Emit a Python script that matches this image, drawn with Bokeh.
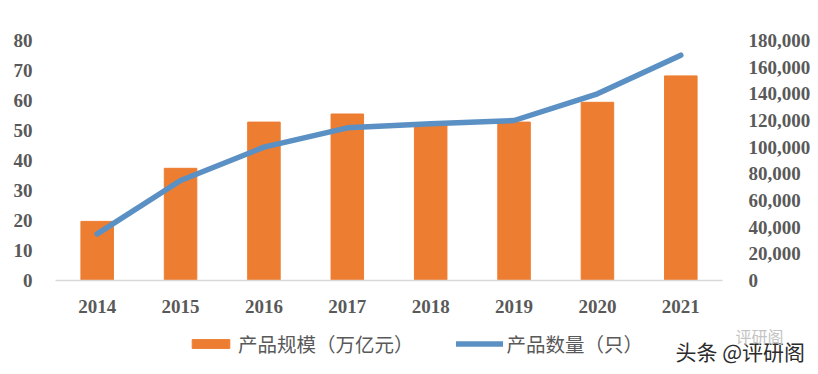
from bokeh.plotting import figure
from bokeh.models import (Range1d, LinearAxis, FixedTicker, NumeralTickFormatter,
                          Legend, LegendItem, Label, ColumnDataSource)
from bokeh.embed import file_html
from bokeh.resources import INLINE

years = ["2014", "2015", "2016", "2017", "2018", "2019", "2020", "2021"]
scale = [19.7, 37.4, 52.8, 55.5, 52.0, 52.8, 59.4, 68.2]          # 产品规模（万亿元）
count = [35000, 75000, 100000, 114500, 117500, 120000, 140000, 169000]  # 产品数量（只）
left_ticks = [0, 10, 20, 30, 40, 50, 60, 70, 80]
right_ticks = [0, 20000, 40000, 60000, 80000, 100000, 120000, 140000, 160000, 180000]
series_names = ["产品规模（万亿元）", "产品数量（只）"]
watermark = "头条 @评研阁"
watermark_small = "评研阁"

BAR = "#ED7D31"
LINE = "#5B90C4"
TXT = "#595959"
NUMFONT = "Liberation Serif"
CJK = "Noto Sans CJK SC"

# category slots: year i is centred at i + 0.5
xpos = [i + 0.5 for i in range(len(years))]
n = len(years)
src = ColumnDataSource(dict(x=xpos, years=years, scale=scale, count=count))

# plot-area geometry (px): category band spans 55..722, value 0 at y=280, 80 at y=40
W, H = 818, 374
L, R, ZERO, TOP = 55, 722, 280, 40
px_per_cat = (R - L) / n
px_per_unit = (ZERO - TOP) / 80

p = figure(width=W, height=H,
           x_range=Range1d(-L / px_per_cat, (W - L) / px_per_cat),
           y_range=Range1d(-(H - ZERO) / px_per_unit, ZERO / px_per_unit),
           output_backend="svg", toolbar_location=None,
           min_border_left=0, min_border_right=0, min_border_top=0, min_border_bottom=0)
ratio = 180000 / 80
p.extra_y_ranges = {"right": Range1d(p.y_range.start * ratio, p.y_range.end * ratio)}
p.outline_line_color = None
p.grid.visible = False

bars = p.vbar(x="x", top="scale", width=0.39, source=src, color=BAR)
ln = p.line(x="x", y="count", source=src, y_range_name="right", color=LINE,
            line_width=5.5, line_cap="round", line_join="round")

def style(ax):
    ax.major_tick_line_color = None
    ax.minor_tick_line_color = None
    ax.major_label_text_font = NUMFONT
    ax.major_label_text_font_style = "bold"
    ax.major_label_text_font_size = "19px"
    ax.major_label_text_color = TXT

ly = p.yaxis[0]
ly.ticker = FixedTicker(ticks=left_ticks)
ly.axis_line_color = None
ly.major_label_standoff = 17
ly.fixed_location = 0
style(ly)

ry = LinearAxis(y_range_name="right", ticker=FixedTicker(ticks=right_ticks),
                formatter=NumeralTickFormatter(format="0,0"))
ry.axis_line_color = None
ry.major_label_standoff = 20
ry.fixed_location = n
style(ry)
p.add_layout(ry, "right")

bx = p.xaxis[0]
bx.ticker = FixedTicker(ticks=xpos)
bx.major_label_overrides = {x: y for x, y in zip(xpos, years)}
bx.axis_line_color = "#D9D9D9"
bx.axis_line_width = 1.5
bx.major_label_standoff = 13
bx.fixed_location = 0
bx.bounds = (0, n)
style(bx)

legend = Legend(items=[LegendItem(label=series_names[0], renderers=[bars]),
                       LegendItem(label=series_names[1], renderers=[ln])],
                orientation="horizontal", location=(187, 16),
                glyph_width=47, glyph_height=11, label_standoff=4, spacing=42,
                padding=0, margin=0, border_line_color=None, background_fill_alpha=0,
                label_text_font=CJK, label_text_font_size="19.5px", label_text_color=TXT,
                label_height=20)
p.add_layout(legend, "center")

p.add_layout(Label(x=(675 - L) / px_per_cat, y=(ZERO - 350) / px_per_unit, text=watermark,
                   text_font=CJK, text_font_size="21px", text_color="#2B2B2B",
                   text_baseline="middle"))
p.add_layout(Label(x=(735 - L) / px_per_cat, y=(ZERO - 335) / px_per_unit, text=watermark_small,
                   text_font=CJK, text_font_size="16px", text_color="#C4C4C4",
                   text_baseline="middle"))

open("out.html", "w").write(file_html(p, INLINE))
